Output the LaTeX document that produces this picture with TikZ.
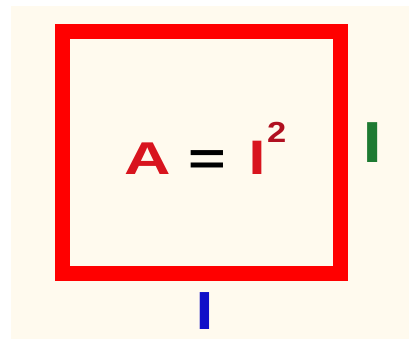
\documentclass[tikz,border=0pt]{standalone}
\usepackage{fontspec}
\setmainfont{Liberation Sans}
\definecolor{cream}{HTML}{FFFAEE}
\definecolor{boxred}{HTML}{FF0000}
\definecolor{txtred}{HTML}{D8141E}
\definecolor{supred}{HTML}{B01020}
\definecolor{lgreen}{HTML}{1E7A32}
\definecolor{lblue}{HTML}{1010C8}
\begin{document}
\begin{tikzpicture}[x=1pt,y=1pt,
  lbl/.style={inner sep=0pt,anchor=base west,xscale=1.4,font=\fontsize{46}{46}\selectfont\bfseries}]
\useasboundingbox (0,0) rectangle (409,339);
\fill[white] (0,0) rectangle (409,339);
\fill[cream] (11,0) rectangle (409,333);
\draw[boxred,line width=15pt] (62,65.5) rectangle (340,307.5);
\node[lbl,text=txtred] (nA) at (124,164) {A};
\node[lbl,text=black] (neq) at (188,164) {=};
\node[lbl,text=txtred] (nl) at (248,164) {l};
\node[lbl,text=supred,xscale=0.85,font=\fontsize{29}{29}\selectfont\bfseries] (nsup) at (267,196) {2};
\node[lbl,text=lgreen,xscale=0.95,font=\fontsize{55}{55}\selectfont\bfseries] (ng) at (362,176) {l};
\node[lbl,text=lblue,xscale=0.95,font=\fontsize{51}{51}\selectfont\bfseries] (nb) at (195,9) {l};
\end{tikzpicture}
\end{document}
